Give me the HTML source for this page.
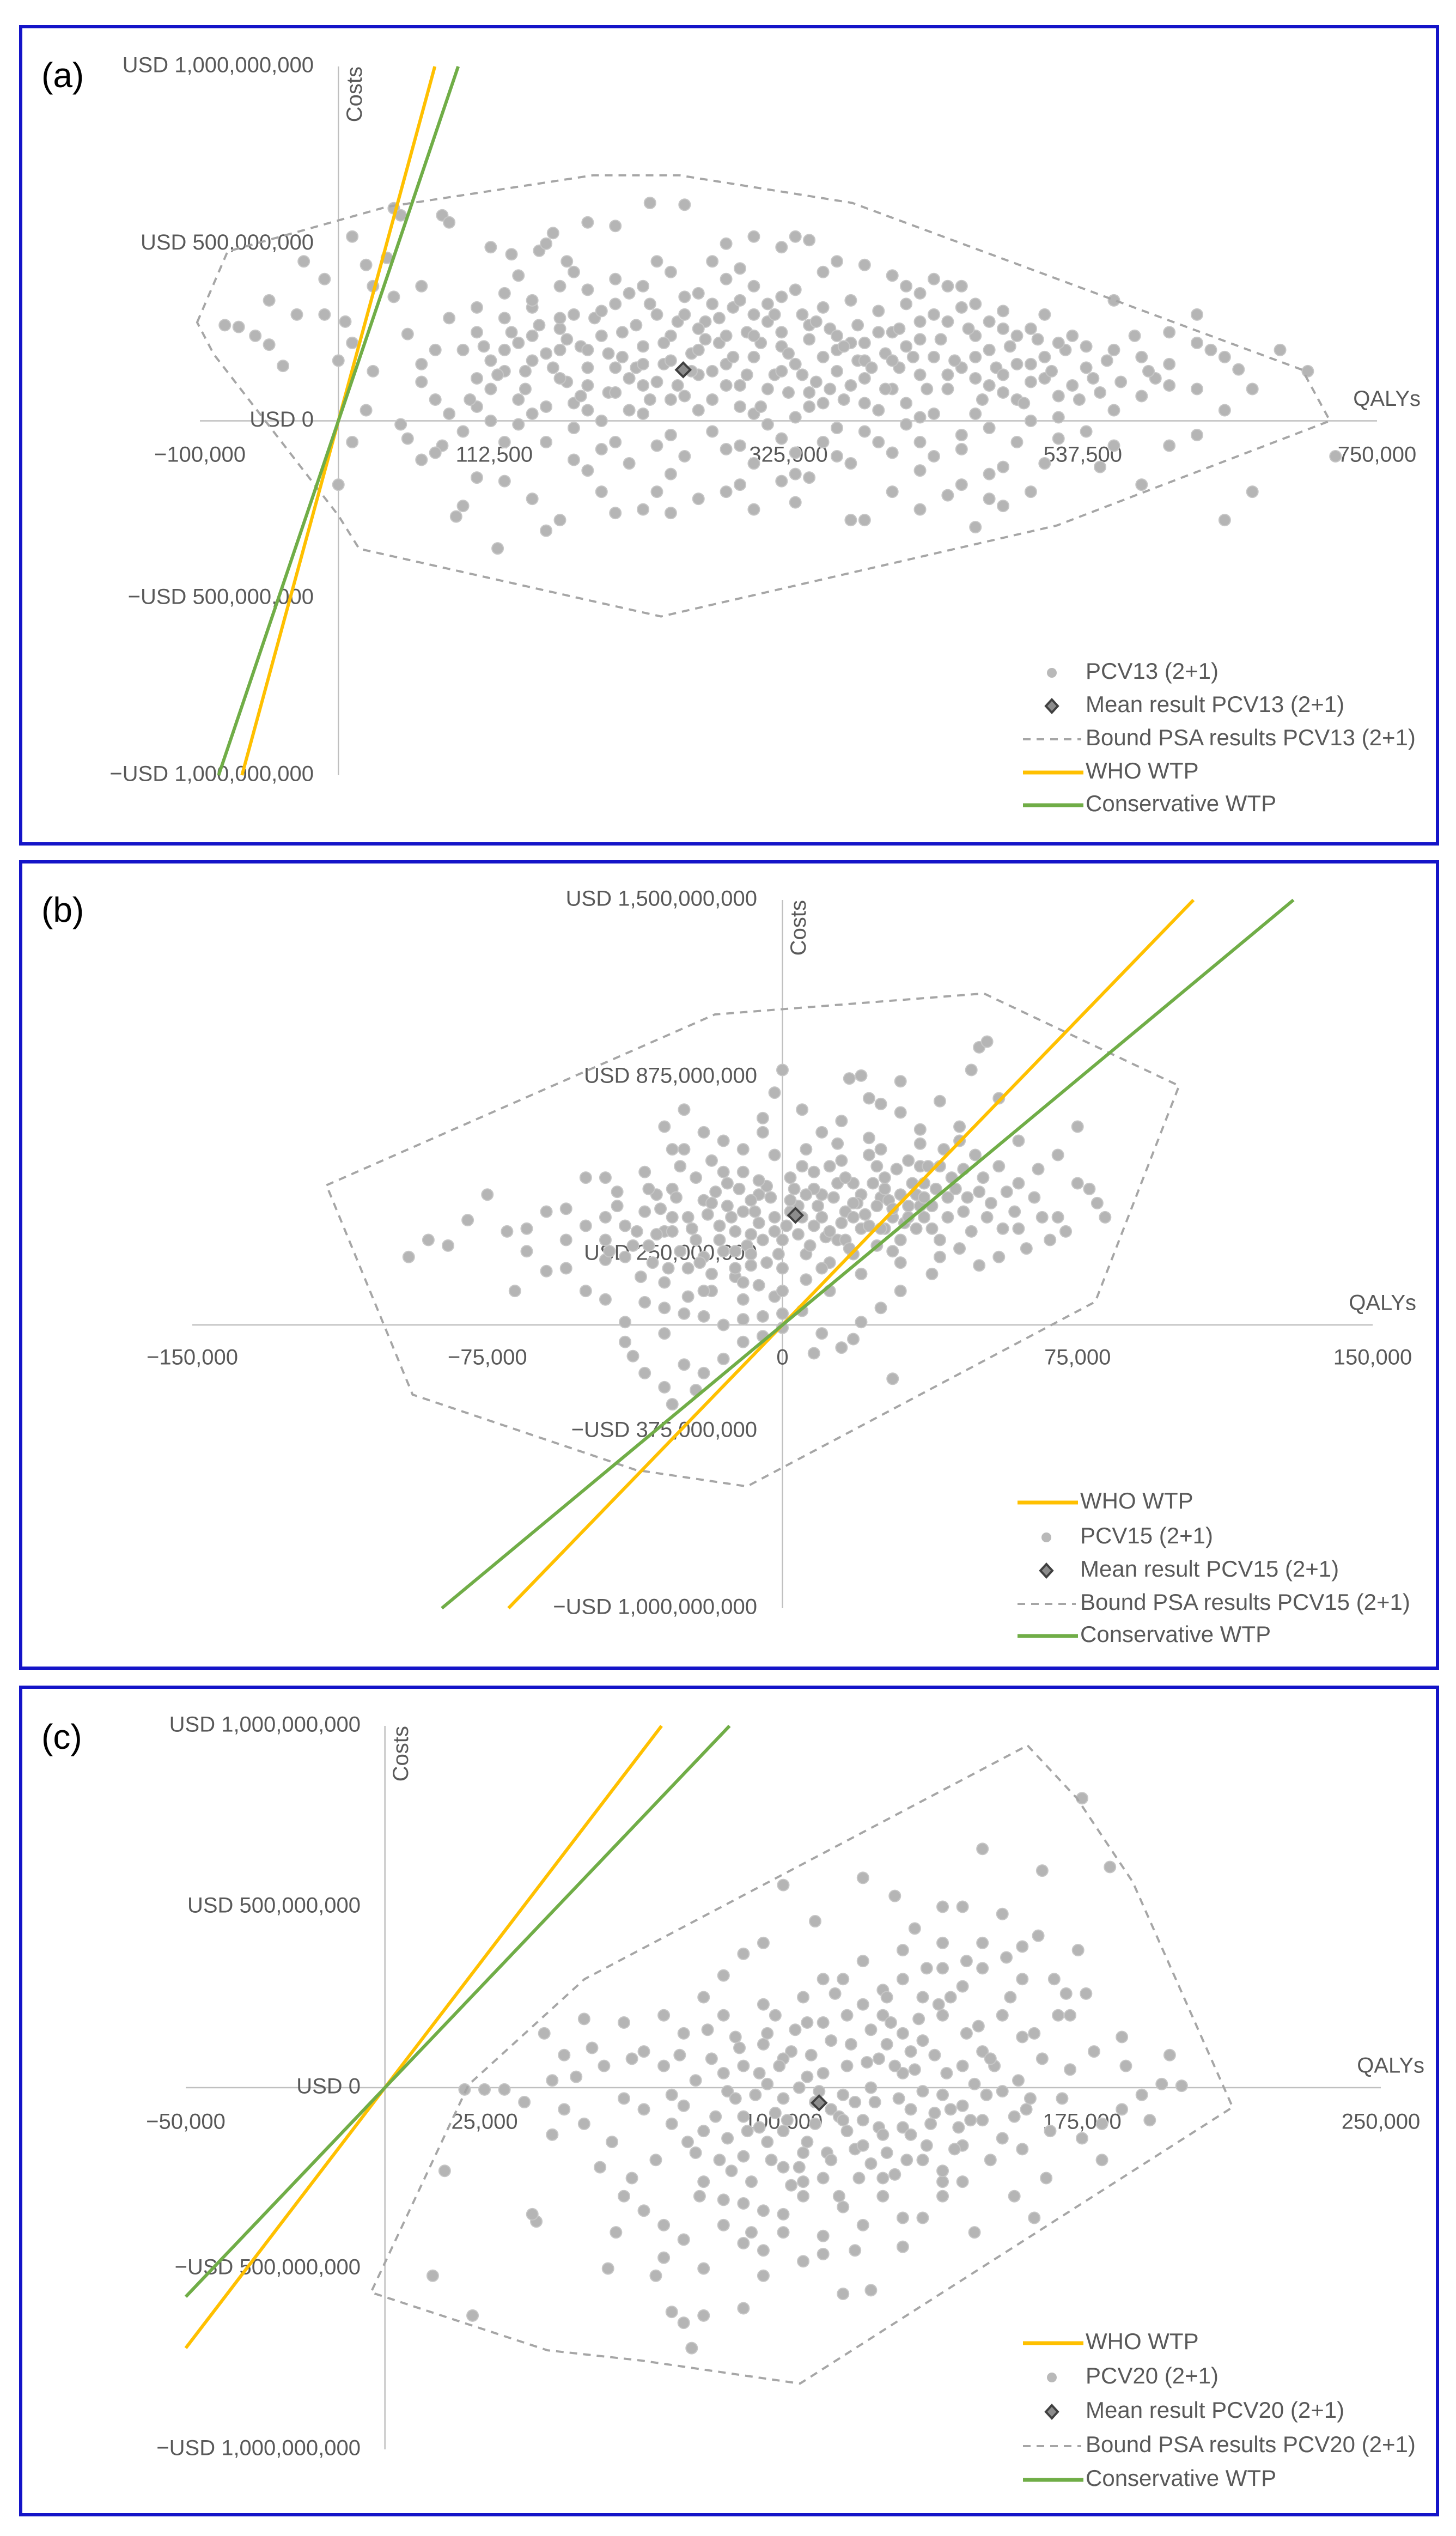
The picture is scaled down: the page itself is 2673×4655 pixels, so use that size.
<!DOCTYPE html>
<html>
<head>
<meta charset="utf-8">
<style>
html,body{margin:0;padding:0;background:#fff;}
svg{display:block;}
text{font-family:"Liberation Sans",Arial,sans-serif;}
</style>
</head>
<body>
<svg id="fig" width="2673" height="4655" viewBox="0 0 2673 4655" xmlns="http://www.w3.org/2000/svg"></svg>
<script>
// ---------- Panel (a) data: QALYs (thousands), costs (USD millions) ----------
const pointsA = [[-82,270],[-72,265],[-60,240],[-50,215],[-40,155],[-25,450],[-10,400],[-10,300],[5,280],[0,170],[10,220],[10,-60],[0,-180],[20,30],[25,140],[40,600],[45,580],[35,460],[25,380],[40,350],[50,245],[60,110],[75,580],[80,560],[110,490],[125,470],[145,480],[150,500],[155,530],[165,450],[180,560],[225,615],[200,550],[250,610],[270,450],[280,500],[300,520],[320,490],[330,520],[340,510],[360,450],[380,440],[400,410],[420,360],[430,400],[440,380],[450,380],[460,330],[480,310],[500,260],[510,300],[530,240],[560,340],[600,250],[620,300],[630,200],[640,180],[660,90],[650,145],[590,120],[600,100],[580,70],[560,30],[540,-30],[520,-50],[510,-120],[500,-200],[480,-130],[470,-150],[450,-180],[470,-220],[460,-300],[440,-210],[420,-140],[400,-90],[380,-30],[360,-100],[340,-160],[330,-150],[320,-170],[300,-120],[290,-180],[280,-200],[260,-220],[240,-260],[230,-200],[220,-250],[200,-260],[190,-200],[180,-140],[170,-110],[160,-280],[150,-310],[140,-220],[120,-170],[100,-160],[90,-240],[85,-270],[75,-70],[70,-90],[60,-110],[50,-50],[45,-10],[115,-360],[370,-280],[380,-280],[480,-240],[720,-100],[640,-280],[560,-70],[600,-70],[620,-40],[500,0],[520,10],[460,20],[420,10],[380,50],[340,40],[300,20],[260,30],[220,20],[180,30],[140,20],[100,40],[80,20],[120,-60],[200,-60],[240,-40],[280,-80],[320,-50],[360,-20],[420,-60],[450,-40],[90,200],[100,250],[110,170],[120,290],[130,220],[135,140],[140,320],[150,190],[160,260],[165,110],[170,300],[175,210],[180,150],[190,240],[195,80],[200,330],[205,180],[210,120],[215,270],[220,210],[225,60],[230,300],[235,160],[240,240],[245,100],[250,350],[255,190],[260,130],[265,280],[270,60],[275,220],[280,160],[285,320],[290,100],[295,250],[300,180],[305,40],[310,280],[315,130],[320,210],[325,80],[330,160],[335,300],[340,230],[345,110],[350,180],[355,260],[360,140],[365,60],[370,220],[375,170],[380,120],[390,250],[395,190],[400,90],[405,150],[410,210],[420,130],[430,180],[440,90],[450,150],[460,120],[470,200],[480,80],[490,160],[500,110],[510,180],[520,70],[110,90],[130,60],[150,40],[170,50],[190,0],[210,30],[230,110],[250,70],[270,140],[290,40],[310,90],[330,10],[350,50],[370,100],[390,30],[410,50],[430,20],[100,120],[120,140],[140,170],[160,200],[180,100],[200,150],[220,100],[240,170],[260,200],[280,240],[300,300],[320,250],[340,270],[360,200],[380,170],[400,250],[420,230],[440,280],[460,240],[480,260],[200,400],[220,380],[240,420],[260,360],[280,400],[300,380],[320,350],[180,370],[160,380],[140,340],[120,360],[100,320],[80,290],[70,200],[60,160],[560,200],[540,150],[580,180],[620,90],[600,160],[470,100],[490,60],[510,120],[530,100],[550,80],
[95,60],[105,210],[115,130],[125,250],[135,90],[145,270],[155,150],[165,230],[175,70],[185,290],[195,190],[205,250],[215,150],[225,330],[235,220],[245,280],[255,140],[265,230],[275,290],[285,180],[295,130],[305,220],[315,300],[325,190],[335,130],[345,280],[355,90],[365,210],[375,270],[385,150],[395,90],[405,260],[415,180],[425,90],[435,230],[445,170],[455,260],[465,60],[475,150],[485,210],[495,50],[505,230],[515,140],[525,200],[535,60],[545,120],[555,170],[565,110],[575,240],[585,140],[120,200],[140,240],[160,120],[180,200],[200,80],[220,160],[240,60],[260,260],[280,100],[300,240],[320,140],[340,80],[360,240],[380,220],[400,170],[420,280],[440,130],[460,180],[480,130],[500,160],[150,-60],[170,-20],[190,-80],[210,-120],[230,-70],[250,-100],[270,-30],[290,-70],[310,-10],[330,-90],[350,-60],[370,-120],[390,-60],[410,-10],[430,-100],[450,-80],[470,-20],[490,-60],[110,0],[130,-10],[160,290],[190,310],[210,360],[250,300],[270,330],[290,340],[310,330],[330,370],[350,320],[370,340],[390,310],[410,330],[430,300],[450,320],[470,280],[490,240],[520,220],[540,210],[130,410],[170,420],[230,450],[290,430],[350,420],[410,380],[60,380],[70,60],[90,-30],[240,-150],[300,-250],[400,-200],[420,-250],[330,-230],[550,-130],[580,-180],[620,220],[680,200],[700,140],[640,30],[660,-200],[-30,300],[-50,340],[20,440],[10,520]];
const meanA = [249,144];
const hullA = [[-102,278],[-80,478],[35,604],[184,693],[246,693],[371,615],[696,144],[716,0],[519,-295],[233,-552],[15,-361],[0,-267],[-90,188]];
const xTicksA = [-100,112.5,325,537.5,750];
const xTickLabelsA = ["\u2212100,000","112,500","325,000","537,500","750,000"];
const yTicksA = [1000,500,0,-500,-1000];
const yTickLabelsA = ["USD 1,000,000,000","USD 500,000,000","USD 0","\u2212USD 500,000,000","\u2212USD 1,000,000,000"];

// ---------- Panel (b) data ----------
const pointsB = [[-90,300],[-95,240],[-75,460],[-80,370],[-70,330],[-68,120],[-60,190],[-55,410],[-50,520],[-45,90],[-40,-60],[-35,-170],[-38,-110],[-30,-220],[-28,-280],[-25,-140],[-32,460],[-28,620],[-30,700],[-25,760],[-20,680],[-15,540],[-10,620],[-5,730],[0,900],[-2,820],[5,760],[10,680],[15,720],[17,870],[20,880],[22,800],[25,780],[30,860],[30,750],[35,690],[40,790],[45,650],[48,900],[50,980],[52,1000],[55,800],[60,650],[65,550],[70,600],[75,500],[80,430],[82,380],[70,380],[68,300],[62,270],[60,340],[55,240],[50,210],[45,270],[40,300],[38,180],[30,120],[25,60],[20,10],[18,-50],[15,-80],[10,-30],[8,-100],[28,-190],[5,50],[0,-10],[-5,30],[-10,-60],[-15,-120],[-20,-170],[-22,-230],[-45,230],[-65,260],[-85,280],[-35,80],[-25,40],[-15,0],[-50,120],[-55,200],[75,700],[60,500],[42,450],[35,560],[25,450],[-40,350],[-38,280],[-35,400],[-33,220],[-30,330],[-28,480],[-26,260],[-24,380],[-22,300],[-20,440],[-18,180],[-16,350],[-14,500],[-12,260],[-10,400],[-8,320],[-6,460],[-4,220],[-2,380],[0,300],[2,520],[4,420],[6,250],[8,350],[10,460],[12,560],[14,300],[16,400],[18,500],[20,340],[22,600],[24,420],[26,520],[28,380],[30,460],[32,580],[34,340],[36,500],[38,420],[40,560],[42,380],[44,480],[-36,170],[-30,150],[-24,200],[-18,120],[-12,170],[-6,140],[0,200],[6,160],[12,220],[18,250],[24,280],[30,300],[-34,480],[-26,560],[-18,580],[-10,540],[-2,600],[6,620],[14,640],[22,660],[-20,240],[-8,210],[4,320],[16,300],[28,260],[-14,420],[-4,490],[8,540],[20,460],[32,420],[-28,380],[-16,300],[-6,360],[2,440],[10,380],[26,340],[36,380],[-45,300],[-50,350],[-42,420],[-44,260],[46,550],[50,470],[52,380],[48,330],[12,120],[-2,100],[-10,90],[-24,100],[-32,320],[-12,330],[8,480],[18,380],[-22,520],[14,500],[-8,440],[24,560],[34,460],
[-45,380],[-42,470],[-40,240],[-37,330],[-34,280],[-31,410],[-29,200],[-27,450],[-23,340],[-21,220],[-19,390],[-17,470],[-15,260],[-13,380],[-11,480],[-9,280],[-7,400],[-5,300],[-3,450],[-1,250],[1,350],[3,480],[5,380],[7,280],[9,420],[11,310],[13,450],[15,360],[17,270],[19,430],[21,390],[23,500],[25,340],[27,440],[29,550],[31,360],[33,500],[35,420],[37,560],[39,480],[41,620],[43,520],[47,450],[49,600],[51,520],[53,430],[55,560],[57,470],[59,400],[-25,620],[-15,650],[-5,680],[5,560],[15,580],[25,620],[35,640],[45,700],[-35,540],[-45,520],[-55,300],[-60,400],[-65,340],[-20,120],[-10,150],[0,120],[10,200],[20,180],[30,220],[40,240],[-30,60],[-20,30],[-10,20],[0,40],[-5,-40],[-30,-30],[-40,10],[-8,250],[2,400],[12,330],[22,350],[32,380],[-12,200],[-2,330],[18,430],[28,410],[38,340],[-28,330],[-18,430],[-6,510],[6,460],[16,520],[26,480],[36,450],[46,400],[56,340],[64,450],[66,380],[72,330],[78,480]];
const meanB = [3.3,387];
const hullB = [[-115.9,493],[-17.2,1096],[51.2,1170],[100.8,844],[79.5,82],[-9,-570],[-37.3,-512],[-94,-246]];
const xTicksB = [-150,-75,0,75,150];
const xTickLabelsB = ["\u2212150,000","\u221275,000","0","75,000","150,000"];
const yTicksB = [1500,875,250,-375,-1000];
const yTickLabelsB = ["USD 1,500,000,000","USD 875,000,000","USD 250,000,000","\u2212USD 375,000,000","\u2212USD 1,000,000,000"];

// ---------- Panel (c) data ----------
const pointsC = [[30,-5],[20,-5],[25,-5],[15,-230],[12,-520],[22,-630],[38,-370],[37,-350],[42,-130],[45,-60],[42,20],[45,90],[52,110],[55,60],[60,-30],[57,-150],[62,-250],[58,-400],[56,-500],[65,-340],[70,-470],[68,-520],[72,-620],[75,-650],[77,-720],[80,-630],[90,-610],[95,-450],[92,-400],[100,-350],[105,-300],[110,-410],[115,-570],[122,-560],[130,-440],[135,-360],[140,-300],[140,-260],[145,-160],[150,-90],[155,-10],[160,-170],[163,-360],[170,-30],[172,50],[175,-140],[180,-200],[185,-60],[190,-20],[195,10],[200,5],[197,90],[185,140],[172,200],[171,260],[168,300],[160,390],[155,480],[150,400],[145,500],[140,500],[133,440],[128,530],[120,580],[108,460],[100,560],[95,400],[90,370],[85,310],[80,250],[75,150],[70,200],[65,100],[60,180],[50,190],[150,660],[165,600],[175,800],[182,610],[130,380],[140,330],[125,270],[75,-50],[78,20],[80,-120],[82,80],[84,-200],[86,-10],[88,140],[90,-80],[92,-260],[94,40],[96,-150],[98,200],[100,-30],[102,100],[104,-220],[106,30],[108,-100],[110,180],[112,-60],[114,-300],[116,60],[118,-170],[120,230],[122,0],[124,-110],[126,120],[128,-240],[130,40],[132,-60],[134,190],[136,-160],[138,90],[140,-20],[142,250],[144,-110],[146,150],[148,10],[85,-310],[95,-340],[105,-180],[115,-20],[125,-300],[135,250],[145,60],[80,-260],[90,-190],[100,-120],[110,-250],[120,-90],[130,150],[140,200],[95,120],[105,250],[115,300],[125,200],[135,-10],[145,-50],[150,100],[155,200],[160,140],[158,-80],[152,-200],[90,60],[100,80],[110,40],[120,-160],[130,-110],[140,-230],[88,-30],[98,-70],[108,-40],[118,-40],[128,60],[138,-70],[106,-150],[116,-120],[126,-180],[96,10],[112,130],[124,80],[102,-270],[85,200],[78,-180],[72,-100],[70,60],[104,0],[114,-80],[122,160],[132,100],[94,-110],[86,-140],
[72,-20],[74,90],[76,-150],[79,-300],[81,160],[83,-80],[85,40],[87,-230],[89,110],[91,-120],[93,-20],[95,230],[97,-200],[99,60],[101,-90],[103,160],[105,-260],[107,90],[109,-10],[111,-180],[113,260],[115,-90],[117,120],[119,-250],[121,70],[123,-40],[125,-130],[127,180],[129,-30],[131,-200],[133,50],[135,130],[137,-100],[139,230],[141,40],[143,-170],[145,280],[147,-90],[149,170],[151,-20],[153,60],[155,-140],[157,250],[159,20],[161,-60],[163,150],[165,80],[167,-120],[169,200],[110,300],[120,350],[130,300],[140,400],[150,330],[160,300],[100,-400],[90,-430],[110,-460],[120,-380],[85,-380],[75,-420],[80,-500],[95,-520],[105,-480],[115,-330],[125,-250],[135,-200],[145,-260],[90,-320],[100,-220],[112,-200],[122,-210],[132,-130],[142,-60],[152,80],[162,-30],[96,150],[106,180],[116,200],[126,250],[136,330],[146,350],[156,360],[164,420],[174,380],[68,-200],[65,-60],[62,80],[70,-380],[60,-300],[54,-220],[50,-100],[48,30],[40,150],[35,-40],[178,100],[186,60],[192,-90],[180,-100],[176,260],[166,-250],[158,-300],[148,-400],[130,-360],[118,-450]];
const meanC = [109,-42];
const hullC = [[161.3,946],[173.7,800],[187.7,569],[212.8,-54],[104.2,-818],[64.1,-754],[40.8,-726],[-3.5,-566],[21,8],[50.1,300]];
const xTicksC = [-50,25,100,175,250];
const xTickLabelsC = ["\u221250,000","25,000","100,000","175,000","250,000"];
const yTicksC = [1000,500,0,-500,-1000];
const yTickLabelsC = ["USD 1,000,000,000","USD 500,000,000","USD 0","\u2212USD 500,000,000","\u2212USD 1,000,000,000"];

// Willingness-to-pay thresholds (USD per QALY)
const wtpWHO = [14360,14360,14400];
const wtpConservative = [11560,11550,11560];

const NS = "http://www.w3.org/2000/svg";
const svg = document.getElementById("fig");
function mk(tag, attrs, parent){
  const e = document.createElementNS(NS, tag);
  for (const k in attrs) e.setAttribute(k, attrs[k]);
  (parent||svg).appendChild(e);
  return e;
}
const GREY = "#595959";

function panel(cfg){
  const g = mk("g", {});
  
  
  const border = mk("rect", {x:cfg.box[0], y:cfg.box[1], width:cfg.box[2], height:cfg.box[3], fill:"none", stroke:"#1414c8", "stroke-width":6}, g);
  
  
  const lab = mk("text", {x:cfg.box[0]+38, y:cfg.labelY, "font-size":64, fill:"#000"}, g);
  lab.textContent = "(" + cfg.id + ")";
  
  

  const X = v => cfg.px0 + (v - cfg.xmin) / (cfg.xmax - cfg.xmin) * (cfg.px1 - cfg.px0);
  const Y = v => cfg.py0 + (cfg.ymax - v) / (cfg.ymax - cfg.ymin) * (cfg.py1 - cfg.py0);

  const xa = mk("line", {x1:cfg.px0, x2:cfg.px1, y1:Y(0), y2:Y(0), stroke:"#bfbfbf", "stroke-width":2.5}, g);
  
  
  const ya = mk("line", {x1:X(0), x2:X(0), y1:cfg.py0, y2:cfg.py1, stroke:"#bfbfbf", "stroke-width":2.5}, g);
  
  

  cfg.xTicks.forEach((t,i)=>{
    const tx = mk("text", {x:X(t), y:cfg.xLabY, "font-size":40, fill:GREY, "text-anchor":"middle", "dominant-baseline":"middle"}, g);
    tx.textContent = cfg.xTickLabels[i];
    
    
  });
  cfg.yTicks.forEach((t,i)=>{
    const ty = mk("text", {x:cfg.yLabX, y:Y(t), "font-size":40, fill:GREY, "text-anchor":"end", "dominant-baseline":"middle"}, g);
    ty.textContent = cfg.yTickLabels[i];
    
    
  });
  const ct = mk("text", {x:0, y:0, "font-size":40, fill:GREY, "text-anchor":"end", "dominant-baseline":"middle", transform:"translate("+(X(0)+32)+","+cfg.py0+") rotate(-90)"}, g);
  ct.textContent = "Costs";
  
  
  const qt = mk("text", {x:cfg.px1+80, y:Y(0)-38, "font-size":40, fill:GREY, "text-anchor":"end", "dominant-baseline":"middle"}, g);
  qt.textContent = "QALYs";
  
  

  cfg.points.forEach(p=>{
    const c = mk("circle", {cx:X(p[0]), cy:Y(p[1]), r:10.5, fill:"#b5b5b5", stroke:"#c6c6c6", "stroke-width":2}, g);
    
    
  });
  const hp = cfg.hull.map(p=>X(p[0]).toFixed(1)+","+Y(p[1]).toFixed(1)).join(" ");
  const hull = mk("polygon", {points:hp, fill:"none", stroke:"#a6a6a6", "stroke-width":4, "stroke-dasharray":"14 11"}, g);
  
  
  const mx = X(cfg.mean[0]), my = Y(cfg.mean[1]);
  const md = mk("polygon", {points:`${mx},${my-13} ${mx+13},${my} ${mx},${my+13} ${mx-13},${my}`, fill:"#8c8c8c", stroke:"#404040", "stroke-width":4}, g);
  
  

  function wtpLine(w, color, name){
    const xLo = Math.max(cfg.xmin, (cfg.ymin*1e6)/w/1000);
    const xHi = Math.min(cfg.xmax, (cfg.ymax*1e6)/w/1000);
    const l = mk("line", {x1:X(xLo), y1:Y(xLo*1000*w/1e6), x2:X(xHi), y2:Y(xHi*1000*w/1e6), stroke:color, "stroke-width":6}, g);
    
    
  }
  wtpLine(cfg.wtpY, "#ffc000", "who-wtp-line");
  wtpLine(cfg.wtpG, "#70ad47", "conservative-wtp-line");

  cfg.legend.forEach((e,i)=>{
    const y = cfg.legY[i];
    const mxl = cfg.legX - 62;
    if (e.type==="dot"){
      const m = mk("circle", {cx:mxl, cy:y, r:9, fill:"#b9b9b9"}, g);
      
      
    } else if (e.type==="diamond"){
      const m = mk("polygon", {points:`${mxl},${y-12} ${mxl+11},${y} ${mxl},${y+12} ${mxl-11},${y}`, fill:"#8c8c8c", stroke:"#404040", "stroke-width":4}, g);
      
      
    } else if (e.type==="dash"){
      const m = mk("line", {x1:cfg.legX-115, x2:cfg.legX-8, y1:y, y2:y, stroke:"#a6a6a6", "stroke-width":4, "stroke-dasharray":"14 11"}, g);
      
      
    } else {
      const m = mk("line", {x1:cfg.legX-115, x2:cfg.legX-4, y1:y, y2:y, stroke:e.color, "stroke-width":7}, g);
      
      
    }
    const t = mk("text", {x:cfg.legX, y:y, "font-size":42, fill:GREY, "dominant-baseline":"middle"}, g);
    t.textContent = e.text;
    
    
  });
}

panel({id:"a", box:[38,49,2601,1500], labelY:160,
  xmin:-100, xmax:750, ymin:-1000, ymax:1000, px0:367, px1:2528, py0:122, py1:1423,
  xTicks:xTicksA, xTickLabels:xTickLabelsA, yTicks:yTicksA, yTickLabels:yTickLabelsA,
  xLabY:837, yLabX:576, points:pointsA, hull:hullA, mean:meanA,
  wtpY:wtpWHO[0], wtpG:wtpConservative[0],
  legX:1993, legY:[1235,1296,1357,1418,1478],
  legend:[{type:"dot",text:"PCV13 (2+1)"},{type:"diamond",text:"Mean result PCV13 (2+1)"},{type:"dash",text:"Bound PSA results PCV13 (2+1)"},{type:"line",color:"#ffc000",text:"WHO WTP"},{type:"line",color:"#70ad47",text:"Conservative WTP"}]});

panel({id:"b", box:[38,1582,2601,1480], labelY:1692,
  xmin:-150, xmax:150, ymin:-1000, ymax:1500, px0:353, px1:2520, py0:1652, py1:2952,
  xTicks:xTicksB, xTickLabels:xTickLabelsB, yTicks:yTicksB, yTickLabels:yTickLabelsB,
  xLabY:2494, yLabX:1390, points:pointsB, hull:hullB, mean:meanB,
  wtpY:wtpWHO[1], wtpG:wtpConservative[1],
  legX:1983, legY:[2758,2822,2883,2944,3003],
  legend:[{type:"line",color:"#ffc000",text:"WHO WTP"},{type:"dot",text:"PCV15 (2+1)"},{type:"diamond",text:"Mean result PCV15 (2+1)"},{type:"dash",text:"Bound PSA results PCV15 (2+1)"},{type:"line",color:"#70ad47",text:"Conservative WTP"}]});

panel({id:"c", box:[38,3097,2601,1519], labelY:3210,
  xmin:-50, xmax:250, ymin:-1000, ymax:1000, px0:341, px1:2535, py0:3168, py1:4496,
  xTicks:xTicksC, xTickLabels:xTickLabelsC, yTicks:yTicksC, yTickLabels:yTickLabelsC,
  xLabY:3897, yLabX:662, points:pointsC, hull:hullC, mean:meanC,
  wtpY:wtpWHO[2], wtpG:wtpConservative[2],
  legX:1993, legY:[4301,4364,4427,4490,4552],
  legend:[{type:"line",color:"#ffc000",text:"WHO WTP"},{type:"dot",text:"PCV20 (2+1)"},{type:"diamond",text:"Mean result PCV20 (2+1)"},{type:"dash",text:"Bound PSA results PCV20 (2+1)"},{type:"line",color:"#70ad47",text:"Conservative WTP"}]});
</script>
</body>
</html>
